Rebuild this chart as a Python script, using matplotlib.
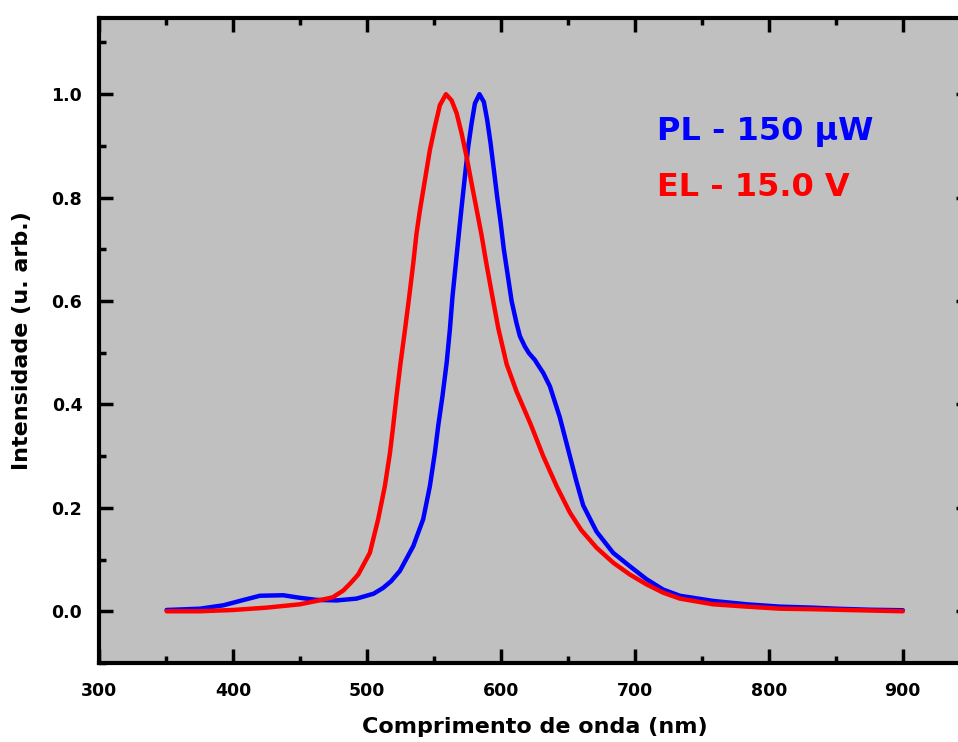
import matplotlib
matplotlib.use("Agg")
import matplotlib.pyplot as plt
import numpy as np
from matplotlib.ticker import MultipleLocator

# PL spectrum (blue)
pl_nm = [350.5, 375.4, 392.8, 405.2, 420.1, 437.5, 450, 462.5, 477.4, 492.3,
         505, 512, 518, 524.6, 534.6, 542, 547, 550.7, 553.2, 556.4, 559.5,
         561.9, 563.9, 566.4, 568.9, 570.7, 573.1, 575.6, 578.1, 580.6, 584,
         587.3, 589.8, 592.3, 594.8, 597.2, 599.8, 602.2, 605.4, 608, 611.7,
         614.2, 617.9, 621, 625.4, 627.8, 631.6, 636.6, 640.3, 644, 650.2,
         656.5, 661.4, 671.4, 683.8, 696.3, 708.7, 721.1, 733.6, 758.4, 783.4,
         808.2, 833, 850, 875, 900]
pl_int = [0.0025, 0.005, 0.0115, 0.020, 0.030, 0.031, 0.026, 0.022, 0.021, 0.0245,
          0.034, 0.045, 0.058, 0.078, 0.126, 0.178, 0.242, 0.306, 0.358, 0.416, 0.480,
          0.544, 0.609, 0.673, 0.737, 0.782, 0.840, 0.898, 0.943, 0.982, 1.0,
          0.985, 0.95, 0.905, 0.853, 0.802, 0.752, 0.700, 0.645, 0.600, 0.557,
          0.532, 0.512, 0.499, 0.486, 0.476, 0.461, 0.435, 0.405, 0.375, 0.313,
          0.250, 0.205, 0.154, 0.113, 0.087, 0.062, 0.042, 0.030, 0.020, 0.0135,
          0.009, 0.007, 0.005, 0.003, 0.002]

# EL spectrum (red)
el_nm = [350.5, 375.4, 400.2, 425.1, 450, 462.5, 474.5, 482.3, 488, 493.5,
         502.2, 508.4, 513.4, 517.2, 519.6, 522.1, 525.1, 528.4, 531.6, 534.6,
         537, 539.6, 543.3, 547, 550.7, 554.5, 559, 563.2, 567, 570.7, 574.4,
         578.1, 581.9, 585.6, 589, 593, 598, 604.3, 611.7, 622.5, 631.6,
         641.6, 651.5, 660, 671.4, 683.8, 696.3, 708.7, 721.1, 733.6, 758.4,
         783.4, 808.2, 833, 866, 900]
el_int = [0.0, 0.0, 0.0025, 0.007, 0.0135, 0.020, 0.027, 0.040, 0.055, 0.071,
          0.113, 0.178, 0.242, 0.306, 0.358, 0.416, 0.480, 0.544, 0.609, 0.673,
          0.730, 0.776, 0.834, 0.892, 0.937, 0.979, 1.0, 0.988, 0.963, 0.924, 0.879,
          0.828, 0.777, 0.727, 0.675, 0.618, 0.548, 0.478, 0.425, 0.360, 0.300,
          0.242, 0.191, 0.157, 0.123, 0.094, 0.071, 0.052, 0.036, 0.0245, 0.0135,
          0.009, 0.005, 0.004, 0.002, 0.0]

labels = ["PL - 150 μW", "EL - 15.0 V"]

plt.rcParams['font.family'] = ['DejaVu Sans']
plt.rcParams['font.weight'] = 'bold'

fig = plt.figure(figsize=(9.58, 7.42), dpi=100)
ax = fig.add_axes([0.1033, 0.1065, 0.909, 0.869])
ax.set_facecolor('#c0c0c0')

ax.plot(pl_nm, pl_int, color='#0000ff', lw=3.2, solid_capstyle='round',
        solid_joinstyle='round')
ax.plot(el_nm, el_int, color='#ff0000', lw=3.2, solid_capstyle='round',
        solid_joinstyle='round')

ax.set_xlim(300, 950)
ax.set_ylim(-0.1, 1.147)
ax.xaxis.set_major_locator(MultipleLocator(100))
ax.xaxis.set_minor_locator(MultipleLocator(50))
ax.yaxis.set_major_locator(MultipleLocator(0.2))
ax.yaxis.set_minor_locator(MultipleLocator(0.1))
ax.set_xticks(np.arange(300, 901, 100))
ax.set_yticks(np.arange(0, 1.01, 0.2))
ax.yaxis.set_major_formatter(plt.FuncFormatter(lambda v, p: f"{v:.1f}"))

ax.tick_params(which='both', direction='in', top=True, right=True, width=2.5,
               labelsize=12.5)
ax.tick_params(axis='x', pad=14)
ax.tick_params(axis='y', pad=12)
ax.tick_params(which='major', length=10)
ax.tick_params(which='minor', length=5)
for s in ax.spines.values():
    s.set_linewidth(3)
for t in ax.get_xticklabels() + ax.get_yticklabels():
    t.set_fontweight('bold')

ax.set_xlabel("Comprimento de onda (nm)", fontsize=16, fontweight='bold', labelpad=12)
ax.set_ylabel("Intensidade (u. arb.)", fontsize=16, fontweight='bold', labelpad=14)

ax.text(0.641, 0.825, labels[0], transform=ax.transAxes, color='#0000ff',
        fontsize=23, fontweight='bold', va='center')
ax.text(0.641, 0.737, labels[1], transform=ax.transAxes, color='#ff0000',
        fontsize=23, fontweight='bold', va='center')

fig.savefig("out.png", dpi=100)
